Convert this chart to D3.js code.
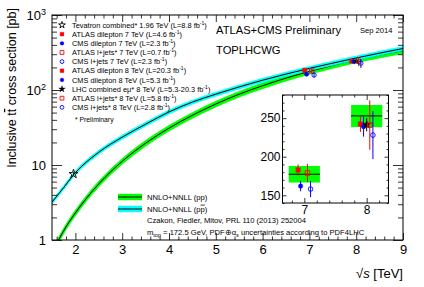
<!DOCTYPE html>
<html><head><meta charset="utf-8">
<script src="https://cdn.jsdelivr.net/npm/d3@7"></script>
<style>
body{margin:0;background:#fff}
svg{display:block;font-family:"Liberation Sans",Arial,Helvetica,sans-serif}
</style>
</head><body>
<svg id="c" width="424" height="287"></svg>
<script>
// ---------------- data ----------------
const ppEnergy = [1.6, 1.64, 1.8, 2.0, 2.5, 3.0, 3.5, 4.0, 4.5, 5.0, 5.5, 6.0, 6.5, 7.0, 7.5, 8.0, 8.5, 9.0];
const ppXsec   = [0.9, 1.0, 1.5, 2.3, 5.6, 11.2, 19.5, 31, 46, 65, 88, 114, 144, 177, 213, 253, 293, 335];
const ppRelUnc = 0.085;
const ppbarEnergy = [1.5, 1.75, 1.96, 2.0, 2.5, 3.0, 3.5, 4.0, 4.5, 5.0, 5.5, 6.0, 6.5, 7.0, 7.5, 8.0, 8.5, 9.0];
const ppbarXsec   = [3.2, 5.0, 7.4, 7.9, 14.8, 23.5, 35, 51, 69, 88, 110, 135, 163, 194, 228, 267, 310, 357];
const ppbarRelUnc = 0.06;

const measLabels = [
  "Tevatron combined* 1.96 TeV (L=8.8 fb^-1)",
  "ATLAS dilepton 7 TeV (L=4.6 fb^-1)",
  "CMS dilepton 7 TeV (L=2.3 fb^-1)",
  "ATLAS l+jets* 7 TeV (L=0.7 fb^-1)",
  "CMS l+jets 7 TeV (L=2.3 fb^-1)",
  "ATLAS dilepton 8 TeV (L=20.3 fb^-1)",
  "CMS dilepton 8 TeV (L=5.3 fb^-1)",
  "LHC combined eμ* 8 TeV (L=5.3-20.3 fb^-1)",
  "ATLAS l+jets* 8 TeV (L=5.8 fb^-1)",
  "CMS l+jets* 8 TeV (L=2.8 fb^-1)"
];
const measEnergy = [1.96, 7, 7, 7, 7, 8, 8, 8, 8, 8];
const measShift  = [0, -0.10, -0.06, 0.05, 0.10, -0.10, -0.05, 0, 0.05, 0.10];
const measXsec   = [7.60, 182.9, 161.9, 179.0, 158.1, 242.4, 239.0, 241.5, 241.0, 228.0];
const measErr    = [0.41, 7.1, 6.7, 11.8, 10.5, 10.3, 13.0, 8.5, 32, 31];
const measMarker = ["starOpen","square","circle","squareOpen","circleOpen","square","circle","star","squareOpen","circleOpen"];
const measColor  = ["#000","#ff0000","#0000ff","#ff0000","#0000ff","#ff0000","#0000ff","#000","#ff0000","#0000ff"];

const theoryEnergy = [7, 8];
const theoryXsec   = [177.3, 252.9];
const theoryLow    = [166.5, 238.4];
const theoryHigh   = [188.0, 267.0];

const mainXTicks = [2, 3, 4, 5, 6, 7, 8, 9];
const mainYTicks = [1, 10, 100, 1000];
const insetXTicks = [7, 8];
const insetYTicks = [150, 200, 250];

// ---------------- setup ----------------
const svg = d3.select("#c");
svg.append("rect").attr("width",424).attr("height",287).attr("fill","#fff");
const FONT = "'Liberation Sans',Arial,Helvetica,sans-serif";

const x = d3.scaleLinear().domain([1.5, 9]).range([52, 403]);
const y = d3.scaleLog().domain([1, 1000]).range([240, 15]);

svg.append("clipPath").attr("id","clipMain").append("rect")
  .attr("x",52).attr("y",15).attr("width",351).attr("height",225);

const curveG = svg.append("g").attr("clip-path","url(#clipMain)");
function band(E, S, rel, fill){
  const pts = E.map((e,i)=>({e, v:S[i]}));
  const area = d3.area().x(d=>x(d.e)).y0(d=>y(d.v*(1-rel))).y1(d=>y(d.v*(1+rel))).curve(d3.curveMonotoneX);
  const line = d3.line().x(d=>x(d.e)).y(d=>y(d.v)).curve(d3.curveMonotoneX);
  curveG.append("path").attr("d",area(pts)).attr("fill",fill).attr("stroke",fill).attr("stroke-width",0.8);
  curveG.append("path").attr("d",line(pts)).attr("fill","none").attr("stroke","#000").attr("stroke-width",1);
}
band(ppEnergy, ppXsec, ppRelUnc, "#00ff00");
band(ppbarEnergy, ppbarXsec, ppbarRelUnc, "#00ffff");

// ---------------- markers ----------------
function marker(g, type, color, cx, cy, s){
  const filled = !/Open/.test(type);
  let sym;
  if (/star/.test(type)) sym = d3.symbol(d3.symbolStar, s*s*0.6);
  else if (/square/.test(type)) sym = d3.symbol(d3.symbolSquare, s*s);
  else sym = d3.symbol(d3.symbolCircle, s*s*0.785);
  g.append("path").attr("d", sym()).attr("transform",`translate(${cx},${cy})`)
    .attr("fill", filled ? color : "none").attr("stroke", color).attr("stroke-width", filled ? 0.3 : 0.9);
}

// main plot points
const ptsG = svg.append("g");
measEnergy.forEach((e,i)=>{
  const cx = x(e + measShift[i]);
  ptsG.append("line").attr("x1",cx).attr("x2",cx)
    .attr("y1",y(measXsec[i]-measErr[i])).attr("y2",y(measXsec[i]+measErr[i]))
    .attr("stroke",measColor[i]).attr("stroke-width",1);
  marker(ptsG, measMarker[i], measColor[i], cx, y(measXsec[i]), i===0?6.5:4.3);
});

// ---------------- main axes ----------------
function styleAxis(g){
  g.select(".domain").remove();
  g.selectAll("line").attr("stroke","#000").attr("stroke-width",0.8);
  g.selectAll("text").attr("font-family",FONT).attr("fill","#000");
}
const minorX = d3.range(1.6, 9.001, 0.2).map(v=>+v.toFixed(1)).filter(v=>!mainXTicks.includes(v));
svg.append("g").attr("transform","translate(0,240)")
  .call(d3.axisBottom(x).tickValues(minorX).tickSize(-3.5).tickFormat("")).call(styleAxis);
svg.append("g").attr("transform","translate(0,240)")
  .call(d3.axisBottom(x).tickValues(mainXTicks).tickSize(-7).tickPadding(4.5).tickFormat(d3.format("d")))
  .call(styleAxis).selectAll("text").attr("font-size",13);
svg.append("g").attr("transform","translate(0,15)")
  .call(d3.axisTop(x).tickValues(minorX).tickSize(-3.5).tickFormat("")).call(styleAxis);
svg.append("g").attr("transform","translate(0,15)")
  .call(d3.axisTop(x).tickValues(mainXTicks).tickSize(-7).tickFormat("")).call(styleAxis);

const minorY = [];
[1,10,100].forEach(d=>{ for(let k=2;k<=9;k++) minorY.push(d*k); });
svg.append("g").attr("transform","translate(52,0)")
  .call(d3.axisLeft(y).tickValues(minorY).tickSize(-5).tickFormat("")).call(styleAxis);
const yMaj = svg.append("g").attr("transform","translate(52,0)")
  .call(d3.axisLeft(y).tickValues(mainYTicks).tickSize(-10).tickPadding(6).tickFormat(()=>""))
  .call(styleAxis);
yMaj.selectAll(".tick text").each(function(d){
  const t = d3.select(this).attr("font-size",13);
  if (d >= 100){
    t.append("tspan").text("10");
    t.append("tspan").attr("font-size",9).attr("dy",-5).text(Math.round(Math.log10(d)));
  } else t.text(d);
});
svg.append("g").attr("transform","translate(403,0)")
  .call(d3.axisRight(y).tickValues(minorY).tickSize(-5).tickFormat("")).call(styleAxis);
svg.append("g").attr("transform","translate(403,0)")
  .call(d3.axisRight(y).tickValues(mainYTicks).tickSize(-10).tickFormat("")).call(styleAxis);

svg.append("rect").attr("x",52).attr("y",15).attr("width",351).attr("height",225)
  .attr("fill","none").attr("stroke","#000").attr("stroke-width",1);

// axis titles
const xt = svg.append("text").attr("x",403).attr("y",278).attr("text-anchor","end")
  .attr("font-size",13).attr("font-family",FONT);
xt.append("tspan").text("√");
xt.append("tspan").attr("font-style","italic").text("s");
xt.append("tspan").text(" [TeV]");

const yt = svg.append("text").attr("transform","translate(16,8) rotate(-90)")
  .attr("text-anchor","end").attr("font-size",12.5).attr("font-family",FONT);
yt.append("tspan").text("Inclusive t");
yt.append("tspan").attr("text-decoration","overline").text("t");
yt.append("tspan").text(" cross section [pb]");

// ---------------- legend ----------------
const leg = svg.append("g");
measLabels.forEach((lab,i)=>{
  const cy = 25 + i*9.15;
  const isStar = /star/.test(measMarker[i]);
  marker(leg, measMarker[i], measColor[i], 62, cy, isStar ? 4.8 : 3.8);
  const parts = lab.split("^-1");
  const t = leg.append("text").attr("x",72).attr("y",cy+2.6).attr("font-size",7.4).attr("font-family",FONT);
  t.append("tspan").text(parts[0]);
  t.append("tspan").attr("font-size",5).attr("dy",-3).text("-1");
  t.append("tspan").attr("dy",3).text(parts[1]);
});
leg.append("text").attr("x",75).attr("y",121.5).attr("font-size",6.8).attr("font-family",FONT).text("* Preliminary");

svg.append("text").attr("x",216).attr("y",34).attr("font-size",11.2).attr("font-family",FONT).text("ATLAS+CMS Preliminary");
svg.append("text").attr("x",360).attr("y",32.5).attr("font-size",7.6).attr("font-family",FONT).text("Sep 2014");
svg.append("text").attr("x",216).attr("y",53.5).attr("font-size",11.2).attr("font-family",FONT).text("TOPLHCWG");

// theory legend
[["#00ff00", 197, "pp"], ["#00ffff", 209, "ppbar"]].forEach(([c, cy, kind])=>{
  svg.append("rect").attr("x",118).attr("y",cy-3.2).attr("width",24).attr("height",6.4).attr("fill",c);
  svg.append("line").attr("x1",118).attr("x2",142).attr("y1",cy).attr("y2",cy).attr("stroke","#000").attr("stroke-width",1);
  const t = svg.append("text").attr("x",147).attr("y",cy+2.7).attr("font-size",7.6).attr("font-family",FONT);
  t.append("tspan").text("NNLO+NNLL (p");
  if (kind==="pp") t.append("tspan").text("p)");
  else { t.append("tspan").attr("text-decoration","overline").text("p"); t.append("tspan").text(")"); }
});
svg.append("text").attr("x",147).attr("y",223).attr("font-size",7.6).attr("font-family",FONT)
  .text("Czakon, Fiedler, Mitov, PRL 110 (2013) 252004");
const mt = svg.append("text").attr("x",147).attr("y",234.5).attr("font-size",7.6).attr("font-family",FONT);
mt.append("tspan").text("m");
mt.append("tspan").attr("font-size",5.5).attr("dy",2).text("top");
mt.append("tspan").attr("dy",-2).text(" = 172.5 GeV, PDF⊕α");
mt.append("tspan").attr("font-size",5.5).attr("dy",2).text("s");
mt.append("tspan").attr("dy",-2).text(" uncertainties according to PDF4LHC");

// ---------------- inset ----------------
const xi = d3.scaleLinear().domain([6.65, 8.35]).range([282.5, 388.5]);
const yi = d3.scaleLinear().domain([140, 280]).range([203, 95]);
const ins = svg.append("g");
ins.append("rect").attr("x",282.5).attr("y",95).attr("width",106).attr("height",108).attr("fill","#fff");
theoryEnergy.forEach((e,i)=>{
  ins.append("rect").attr("x",xi(e-0.25)).attr("width",xi(e+0.25)-xi(e-0.25))
    .attr("y",yi(theoryHigh[i])).attr("height",yi(theoryLow[i])-yi(theoryHigh[i])).attr("fill","#00ff00");
  ins.append("line").attr("x1",xi(e-0.25)).attr("x2",xi(e+0.25)).attr("y1",yi(theoryXsec[i])).attr("y2",yi(theoryXsec[i]))
    .attr("stroke","#000").attr("stroke-width",1);
});
measEnergy.forEach((e,i)=>{
  if (i===0) return;
  const cx = xi(e + measShift[i]);
  ins.append("line").attr("x1",cx).attr("x2",cx)
    .attr("y1",yi(measXsec[i]-measErr[i])).attr("y2",yi(measXsec[i]+measErr[i]))
    .attr("stroke",measColor[i]).attr("stroke-width",1);
  marker(ins, measMarker[i], measColor[i], cx, yi(measXsec[i]), i===7?6:4.6);
});
const insMinorX = d3.range(6.8, 8.35, 0.2).map(v=>+v.toFixed(1)).filter(v=>!insetXTicks.includes(v));
const insMinorY = d3.range(140, 281, 10).filter(v=>!insetYTicks.includes(v));
ins.append("g").attr("transform","translate(0,203)")
  .call(d3.axisBottom(xi).tickValues(insMinorX).tickSize(-2.5).tickFormat("")).call(styleAxis);
ins.append("g").attr("transform","translate(0,203)")
  .call(d3.axisBottom(xi).tickValues(insetXTicks).tickSize(-5).tickPadding(2).tickFormat(d3.format("d")))
  .call(styleAxis).selectAll("text").attr("font-size",12);
ins.append("g").attr("transform","translate(0,95)")
  .call(d3.axisTop(xi).tickValues(insMinorX).tickSize(-2.5).tickFormat("")).call(styleAxis);
ins.append("g").attr("transform","translate(0,95)")
  .call(d3.axisTop(xi).tickValues(insetXTicks).tickSize(-5).tickFormat("")).call(styleAxis);
ins.append("g").attr("transform","translate(282.5,0)")
  .call(d3.axisLeft(yi).tickValues(insMinorY).tickSize(-2).tickFormat("")).call(styleAxis);
ins.append("g").attr("transform","translate(282.5,0)")
  .call(d3.axisLeft(yi).tickValues(insetYTicks).tickSize(-4).tickPadding(2).tickFormat(d3.format("d")))
  .call(styleAxis).selectAll("text").attr("font-size",12);
ins.append("g").attr("transform","translate(388.5,0)")
  .call(d3.axisRight(yi).tickValues(insMinorY).tickSize(-2).tickFormat("")).call(styleAxis);
ins.append("g").attr("transform","translate(388.5,0)")
  .call(d3.axisRight(yi).tickValues(insetYTicks).tickSize(-4).tickFormat("")).call(styleAxis);
ins.append("rect").attr("x",282.5).attr("y",95).attr("width",106).attr("height",108)
  .attr("fill","none").attr("stroke","#000").attr("stroke-width",1);
</script>
</body></html>
